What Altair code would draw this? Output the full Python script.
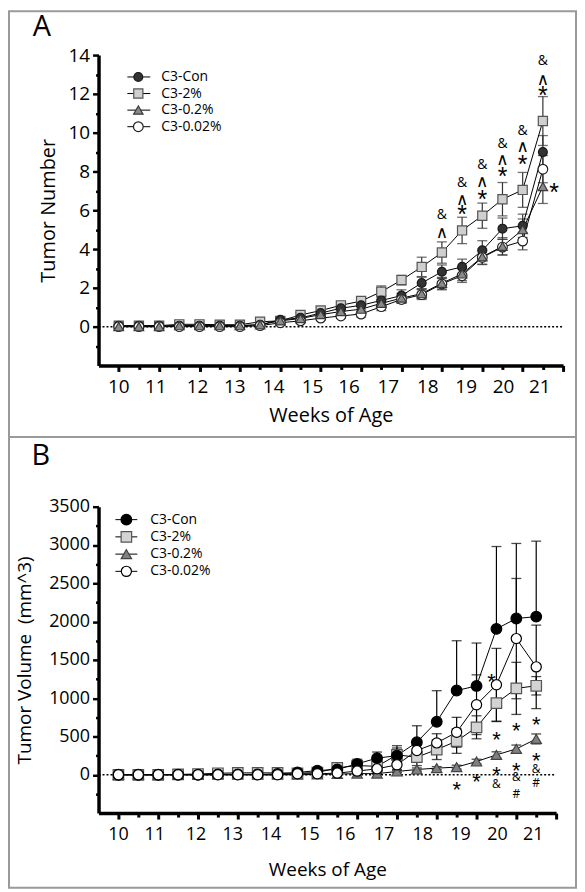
import altair as alt
import pandas as pd

FONT = "Open Sans"

series = ["C3-Con", "C3-2%", "C3-0.2%", "C3-0.02%"]
timepoints = list(range(22))
week_labels = ["10", "11", "12", "13", "14", "15", "16", "17", "18", "19", "20", "21"]
week_label_pos = [0, 1.83, 3.9, 5.75, 7.67, 9.6, 11.4, 13.35, 15.3, 17.2, 19.05, 20.85]

# ---- Panel A: tumor number (mean, error) ----
num_con = [0.05, 0.05, 0.05, 0.05, 0.05, 0.05, 0.05, 0.1, 0.35, 0.45, 0.7, 0.95, 1.1, 1.35, 1.6, 2.25, 2.83, 3.08, 3.93, 5.05, 5.2, 9.0]
num_con_err = [0.03, 0.03, 0.03, 0.03, 0.03, 0.03, 0.03, 0.05, 0.1, 0.12, 0.15, 0.15, 0.2, 0.25, 0.3, 0.3, 0.35, 0.4, 0.5, 0.55, 0.6, 0.85]
num_2 = [0.05, 0.05, 0.05, 0.12, 0.12, 0.1, 0.1, 0.25, 0.3, 0.6, 0.83, 1.1, 1.32, 1.8, 2.4, 3.08, 3.82, 4.96, 5.72, 6.57, 7.05, 10.6]
num_2_err = [0.03, 0.03, 0.03, 0.03, 0.03, 0.03, 0.03, 0.06, 0.1, 0.12, 0.15, 0.15, 0.2, 0.3, 0.25, 0.5, 0.55, 0.68, 0.65, 0.86, 0.9, 1.26]
num_02 = [0.0, 0.0, 0.0, 0.05, 0.05, 0.05, 0.05, 0.1, 0.3, 0.42, 0.62, 0.78, 0.9, 1.2, 1.47, 1.7, 2.24, 2.72, 3.6, 4.14, 5.0, 7.22]
num_02_err = [0.02, 0.02, 0.02, 0.02, 0.02, 0.02, 0.02, 0.05, 0.08, 0.1, 0.12, 0.12, 0.15, 0.2, 0.25, 0.25, 0.3, 0.35, 0.4, 0.45, 0.55, 0.87]
num_002 = [0.0, 0.0, 0.0, 0.0, 0.0, 0.0, 0.0, 0.05, 0.2, 0.3, 0.44, 0.55, 0.65, 1.03, 1.4, 1.65, 2.2, 2.63, 3.57, 4.1, 4.41, 8.12]
num_002_err = [0.02, 0.02, 0.02, 0.02, 0.02, 0.02, 0.02, 0.04, 0.08, 0.1, 0.12, 0.12, 0.15, 0.2, 0.2, 0.25, 0.3, 0.35, 0.35, 0.4, 0.45, 0.7]

ann_a_pos = [16, 16, 17, 17, 17, 18, 18, 18, 19, 19, 19, 20, 20, 20, 21, 21, 21, 21.55]
ann_a_val = [5.81, 4.87, 7.43, 6.57, 6.06, 8.36, 7.51, 6.83, 9.47, 8.62, 8.02, 10.15, 9.3, 8.62, 13.73, 12.79, 12.2, 7.22]
ann_a_sym = ["&", "∧", "&", "∧", "*", "&", "∧", "*", "&", "∧", "*", "&", "∧", "*", "&", "∧", "*", "*"]

# ---- Panel B: tumor volume (mean, error) ----
vol_con = [0, 0, 0, 0, 0, 5, 5, 5, 10, 30, 55, 70, 143, 217, 250, 425, 693, 1100, 1160, 1905, 2040, 2065]
vol_con_err = [0, 0, 0, 0, 0, 5, 5, 5, 10, 15, 25, 40, 60, 80, 130, 215, 405, 650, 560, 1075, 980, 985]
vol_2 = [0, 0, 0, 5, 10, 20, 25, 25, 25, 20, 30, 90, 121, 110, 260, 230, 329, 440, 620, 935, 1128, 1162]
vol_2_err = [0, 0, 0, 5, 5, 10, 10, 10, 10, 10, 15, 30, 40, 50, 90, 110, 130, 160, 150, 240, 340, 120]
vol_02 = [0, 0, 0, 0, 0, 0, 0, 0, 0, 0, 5, 10, 15, 15, 43, 69, 87, 100, 173, 260, 338, 468]
vol_02_err = [0, 0, 0, 0, 0, 0, 0, 0, 0, 0, 5, 10, 10, 10, 15, 20, 20, 25, 30, 40, 50, 65]
vol_002 = [0, 0, 0, 0, 0, 0, 0, 0, 0, 13, 13, 22, 48, 78, 130, 317, 416, 555, 915, 1175, 1778, 1409]
vol_002_err = [0, 0, 0, 0, 0, 0, 0, 0, 0, 5, 5, 10, 20, 30, 60, 80, 120, 195, 390, 475, 785, 545]

ann_b_pos = [17, 18, 18.75, 19, 19, 19, 20, 20, 20, 20, 21, 21, 21, 21]
ann_b_val = [-117, -17, 1288, 533, 78, -117, 650, 121, -30, -247, 729, 251, 78, -108]
ann_b_sym = ["*", "*", "*", "*", "*", "&", "*", "*", "&", "#", "*", "*", "&", "#"]


def long_df(vals, errs, order, upper_only=()):
    rows = []
    for s in order:
        v, e = vals[s], errs[s]
        for i in timepoints:
            lo = v[i] if s in upper_only else v[i] - e[i]
            rows.append({"series": s, "idx": i, "value": v[i], "lo": lo, "hi": v[i] + e[i]})
    return pd.DataFrame(rows)


df_a = long_df(
    {"C3-Con": num_con, "C3-2%": num_2, "C3-0.2%": num_02, "C3-0.02%": num_002},
    {"C3-Con": num_con_err, "C3-2%": num_2_err, "C3-0.2%": num_02_err, "C3-0.02%": num_002_err},
    ["C3-2%", "C3-Con", "C3-0.02%", "C3-0.2%"],
)
df_b = long_df(
    {"C3-Con": vol_con, "C3-2%": vol_2, "C3-0.2%": vol_02, "C3-0.02%": vol_002},
    {"C3-Con": vol_con_err, "C3-2%": vol_2_err, "C3-0.2%": vol_02_err, "C3-0.02%": vol_002_err},
    ["C3-2%", "C3-0.2%", "C3-Con", "C3-0.02%"],
    upper_only=("C3-Con",),
)
ann_a = pd.DataFrame({"pos": ann_a_pos, "val": ann_a_val, "sym": ann_a_sym})
ann_b = pd.DataFrame({"pos": ann_b_pos, "val": ann_b_val, "sym": ann_b_sym})
wl_df = pd.DataFrame({"pos": week_label_pos, "label": week_labels})
leg_df = pd.DataFrame({"series": series})
one = pd.DataFrame({"zero": [0]})


def panel(df, ann, letter, ytitle, ydom, ytick_vals, major, W, H, lab_fs, title_fs,
          fills, strokes, sizes, bar_color, leg_range, leg_line, leg_sym_x, leg_text_x,
          leg_fs, letter_xy, frame, xlab_y, xtitle_pad, ytitle_pad, star_fs, caret_fs, amp_fs):
    xscale = alt.Scale(domain=[-1, 22], nice=False, zero=False)
    yscale = alt.Scale(domain=ydom, nice=False, zero=False)

    x_axis = alt.Axis(
        values=list(range(23)), labels=False, title="Weeks of Age",
        titleFontSize=title_fs, titlePadding=xtitle_pad,
        tickSize={"condition": {"test": "datum.value % 2 == 0", "value": 6}, "value": 4},
        tickWidth=3, domainWidth=3.5,
    )
    y_axis = alt.Axis(
        values=ytick_vals, title=ytitle, titleFontSize=title_fs, titlePadding=ytitle_pad,
        labelFontSize=lab_fs, labelPadding=3, format="d",
        labelExpr=f"datum.value >= 0 && datum.value % {major} == 0 ? datum.label : ''",
        tickSize={"condition": {"test": f"datum.value % {major} == 0", "value": 6}, "value": 3},
        tickWidth=2.5, domainWidth=3.5,
    )

    def X(field):
        return alt.X(field, type="quantitative", scale=xscale, axis=x_axis)

    def Y(field):
        return alt.Y(field, type="quantitative", scale=yscale, axis=y_axis)

    shape = alt.Shape("series:N", scale=alt.Scale(domain=series, range=["circle", "square", "triangle-up", "circle"]), legend=None)
    fill = alt.Fill("series:N", scale=alt.Scale(domain=series, range=fills), legend=None)
    stroke = alt.Stroke("series:N", scale=alt.Scale(domain=series, range=strokes), legend=None)
    size = alt.Size("series:N", scale=alt.Scale(domain=series, range=sizes), legend=None)

    frame_l = alt.Chart(one).mark_rect(fillOpacity=0, stroke="#9a9a9a", strokeWidth=2).encode(
        x=alt.value(frame[0]), x2=alt.value(frame[1]), y=alt.value(frame[2]), y2=alt.value(frame[3]))
    zero_l = alt.Chart(one).mark_rule(color="black", strokeDash=[2, 2], strokeWidth=1.5).encode(
        x=alt.value(0), x2=alt.value(W), y=Y("zero"))
    bars = alt.Chart(df).mark_rule(color=bar_color, strokeWidth=1.2).encode(
        x=X("idx"), y=Y("lo"), y2="hi")
    cap_hi = alt.Chart(df).mark_tick(orient="horizontal", color=bar_color, thickness=1.3, size=10).encode(
        x=X("idx"), y=Y("hi"))
    cap_lo = alt.Chart(df).mark_tick(orient="horizontal", color=bar_color, thickness=1.3, size=10).encode(
        x=X("idx"), y=Y("lo"))
    lines = alt.Chart(df).mark_line(color="black", strokeWidth=1).encode(
        x=X("idx"), y=Y("value"), detail="series:N", order="idx:Q")
    pts = alt.Chart(df).mark_point(filled=True, opacity=1, strokeWidth=1.2).encode(
        x=X("idx"), y=Y("value"), shape=shape, fill=fill, stroke=stroke, size=size)
    wlab = alt.Chart(wl_df).mark_text(font=FONT, fontSize=lab_fs, baseline="middle", align="center", color="black").encode(
        x=X("pos"), y=alt.value(xlab_y), text="label:N")

    def ann_layer(test, font, fs, dyf):
        return alt.Chart(ann).transform_filter(test).mark_text(
            font=font, fontSize=fs, baseline="alphabetic", align="center",
            dy=round(fs * dyf), color="black").encode(x=X("pos"), y=Y("val"), text="sym:N")

    stars = ann_layer("datum.sym == '*'", "Liberation Sans", star_fs, 0.58)
    carets = ann_layer("datum.sym == '∧'", "DejaVu Sans", caret_fs, 0.33)
    others = ann_layer("datum.sym == '&' || datum.sym == '#'", FONT, amp_fs, 0.36)
    letter_l = alt.Chart(one).mark_text(font=FONT, fontSize=29, baseline="middle", align="center", color="black").encode(
        x=alt.value(letter_xy[0]), y=alt.value(letter_xy[1]), text=alt.value(letter))

    loff = alt.YOffset("series:N", scale=alt.Scale(type="point", domain=series, range=leg_range, padding=0))
    leg_rule = alt.Chart(leg_df).mark_rule(color="black", strokeWidth=1).encode(
        x=alt.value(leg_line[0]), x2=alt.value(leg_line[1]), y=alt.value(0), yOffset=loff)
    leg_sym = alt.Chart(leg_df).mark_point(filled=True, opacity=1, strokeWidth=1.2).encode(
        x=alt.value(leg_sym_x), y=alt.value(0), yOffset=loff, shape=shape, fill=fill, stroke=stroke, size=size)
    leg_txt = alt.Chart(leg_df).mark_text(font=FONT, fontSize=leg_fs, align="left", baseline="middle", color="black").encode(
        x=alt.value(leg_text_x), y=alt.value(0), yOffset=loff, text="series:N")

    return alt.layer(frame_l, zero_l, bars, cap_hi, cap_lo, lines, pts, wlab, stars, carets, others,
                     letter_l, leg_rule, leg_sym, leg_txt).properties(width=W, height=H)


WA, HA = 467, 312
WB, HB = 460, 308

pa = panel(
    df_a, ann_a, "A", "Tumor Number", [-2, 14], list(range(-1, 15)), 2, WA, HA, 19, 20,
    ["#333333", "#cfcfcf", "#8a8a8a", "#ffffff"], ["#1a1a1a", "#555555", "#3a3a3a", "#222222"],
    [80, 95, 95, 80], "#333333", [22, 72], [29, 52], 40, 63, 14, [-57, -28],
    [-90, 480, -44, 384], 334, 33, 10, 25, 17, 14,
)
pb = panel(
    df_b, ann_b, "B", "Tumor Volume\u00a0 (mm^3)", [-500, 3500], list(range(-250, 3501, 250)), 500, WB, HB, 18, 19,
    ["#000000", "#d3d3d3", "#808080", "#ffffff"], ["#000000", "#555555", "#444444", "#000000"],
    [115, 105, 110, 115], "#000000", [13, 65], [17, 39], 28, 52, 14, [-58, -51],
    [-90, 480, -70, 383], 330, 40, 14, 22, 16, 12,
)

chart = alt.vconcat(pa, pb, spacing=-2, padding=0).resolve_scale(
    x="independent", y="independent", fill="independent", stroke="independent",
    size="independent", shape="independent", yOffset="independent",
).configure_view(strokeWidth=0).configure_axis(
    labelFont=FONT, titleFont=FONT, labelColor="black", titleColor="black",
    titleFontWeight="normal", domainColor="black", tickColor="black", grid=False,
)

chart.save("out.html", embed_options={"renderer": "svg", "actions": False})
